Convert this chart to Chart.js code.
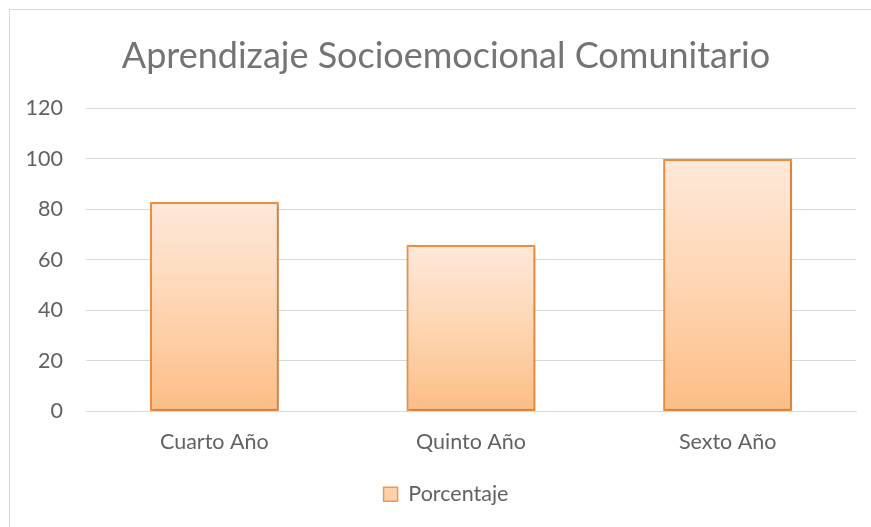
<!DOCTYPE html>
<html>
<head>
<meta charset="utf-8">
<script src="https://cdn.jsdelivr.net/npm/chart.js@4.4.1/dist/chart.umd.min.js"></script>
<style>
html,body{margin:0;padding:0;background:#fff;}
#wrap{position:relative;width:871px;height:527px;overflow:hidden;}
#frame{position:absolute;left:9px;top:9px;width:880px;height:540px;border:1px solid #d9d9d9;box-sizing:border-box;}
canvas{position:absolute;left:0;top:0;}
</style>
</head>
<body>
<div id="wrap"><div id="frame"></div><canvas id="c" width="892" height="527"></canvas></div>
<script>
const categories = ["Cuarto Año", "Quinto Año", "Sexto Año"];
const porcentaje = [83, 66, 100];
const seriesName = "Porcentaje";
const titleText = "Aprendizaje Socioemocional Comunitario";
const yMin = 0, yMax = 120, yStep = 20;

const FONT = "Lato, 'Open Sans', sans-serif";
const GRAY = "#626262";

function barGradient(ctx) {
  const chart = ctx.chart;
  const ys = chart.scales.y;
  if (!ys || ctx.type !== 'data') return '#fdc08c';
  const top = ys.getPixelForValue(ctx.raw);
  const base = ys.getPixelForValue(0);
  if (!isFinite(top) || !isFinite(base) || top === base) return '#fdc08c';
  const g = chart.ctx.createLinearGradient(0, top, 0, base);
  g.addColorStop(0, '#fee9da');
  g.addColorStop(0.5, '#fed5b2');
  g.addColorStop(1, '#fdbd85');
  return g;
}

const shadowPlugin = {
  id: 'shadow',
  beforeDatasetsDraw(chart) {
    const c = chart.ctx;
    c.save();
    c.shadowColor = 'rgba(0,0,0,0.22)';
    c.shadowBlur = 4;
    c.shadowOffsetX = 1;
    c.shadowOffsetY = 1;
  },
  afterDatasetsDraw(chart) { chart.ctx.restore(); }
};

new Chart(document.getElementById('c'), {
  type: 'bar',
  data: {
    labels: categories,
    datasets: [{
      label: seriesName,
      data: porcentaje,
      backgroundColor: barGradient,
      borderColor: '#f59343',
      borderWidth: 2.2,
      borderSkipped: false,
      categoryPercentage: 1.0,
      barPercentage: 0.503
    }]
  },
  plugins: [shadowPlugin],
  options: {
    responsive: false,
    animation: false,
    layout: { padding: { left: 0, right: 0, top: 0, bottom: 12 } },
    scales: {
      y: {
        min: yMin, max: yMax,
        ticks: { stepSize: yStep, color: GRAY, font: { family: FONT, size: 21.5 }, padding: 23 },
        grid: { color: '#d9d9d9', lineWidth: 1, drawTicks: false },
        border: { display: false },
        afterFit(s) { s.width = 86; }
      },
      yRight: {
        position: 'right',
        min: yMin, max: yMax,
        ticks: { display: false },
        grid: { display: false, drawTicks: false },
        border: { display: false },
        afterFit(s) { s.width = 36; }
      },
      x: {
        ticks: { color: GRAY, font: { family: FONT, size: 21.5 }, padding: 18 },
        grid: { display: false, drawTicks: false },
        border: { display: true, color: '#d9d9d9', width: 1 },
        afterFit(s) { s.height = 62; }
      }
    },
    plugins: {
      title: {
        display: true, text: titleText, color: '#747474',
        font: { family: FONT, size: 36, weight: 'normal' },
        padding: { top: 35, bottom: 30 }
      },
      legend: {
        position: 'bottom',
        labels: {
          color: GRAY, font: { family: FONT, size: 21.5 },
          boxWidth: 14, boxHeight: 14, padding: 10,
          generateLabels(chart) {
            return [{
              text: seriesName, fillStyle: '#fdd2ad', strokeStyle: '#f79646',
              lineWidth: 1.5, fontColor: GRAY, datasetIndex: 0, hidden: false
            }];
          }
        }
      },
      tooltip: { enabled: false }
    }
  }
});
</script>
</body>
</html>
